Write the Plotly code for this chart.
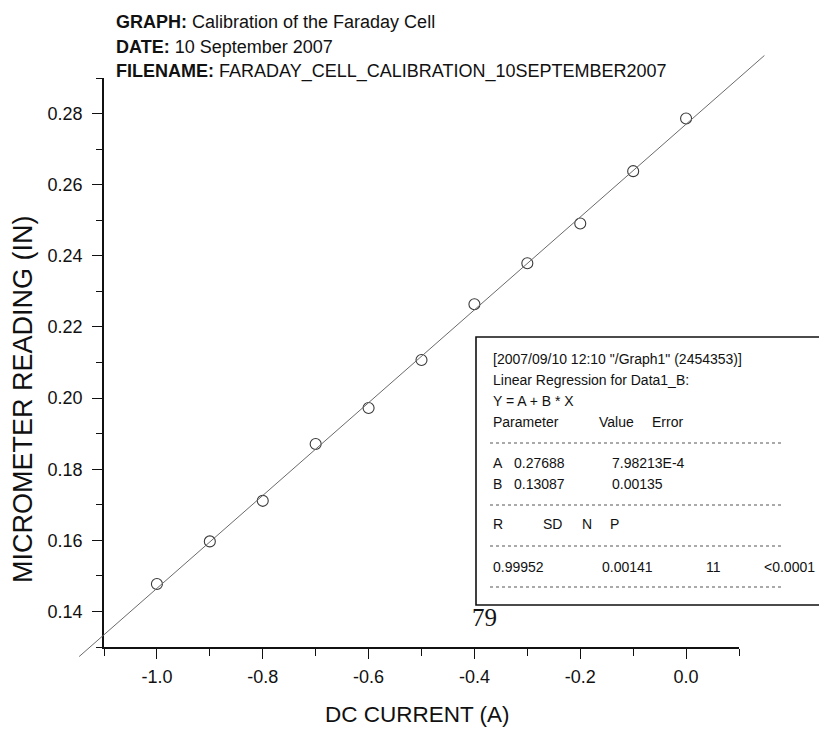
import numpy as np
import plotly.graph_objects as go

# ---- data ----
current = [-1.0, -0.9, -0.8, -0.7, -0.6, -0.5, -0.4, -0.3, -0.2, -0.1, 0.0]
reading = [0.1477, 0.1597, 0.1711, 0.1871, 0.1972, 0.2107, 0.2264, 0.2379, 0.2491, 0.2638, 0.2786]

x_tickvals = [-1.0, -0.8, -0.6, -0.4, -0.2, 0.0]
x_ticktext = ["-1.0", "-0.8", "-0.6", "-0.4", "-0.2", "0.0"]
y_tickvals = [0.14, 0.16, 0.18, 0.20, 0.22, 0.24, 0.26, 0.28]
y_ticktext = ["0.14", "0.16", "0.18", "0.20", "0.22", "0.24", "0.26", "0.28"]

header_lines = [
    ("GRAPH:", "Calibration of the Faraday Cell"),
    ("DATE:", "10 September 2007"),
    ("FILENAME:", "FARADAY_CELL_CALIBRATION_10SEPTEMBER2007"),
]

fit_x_span = [-1.147, 0.148]

report_rows = [
    ['[2007/09/10 12:10 "/Graph1" (2454353)]'],
    ["Linear Regression for Data1_B:"],
    ["Y = A + B * X"],
    ["Parameter", "Value", "Error"],
    ["A", "0.27688", "7.98213E-4"],
    ["B", "0.13087", "0.00135"],
    ["R", "SD", "N", "P"],
    ["0.99952", "0.00141", "11", "<0.0001"],
]

# ---- layout geometry (pixels) ----
W, H = 819, 733
PX_L, PX_R, PX_T, PX_B = 104, 739, 78, 647
XR = [-1.1, 0.1]
YR = [0.13, 0.29]

def px_x(p):
    return p / W

def px_y(p):
    return 1 - p / H

ppx = (PX_R - PX_L) / (XR[1] - XR[0])
ppy = (PX_B - PX_T) / (YR[1] - YR[0])
x2r = [XR[0] - PX_L / ppx, XR[1] + (W - PX_R) / ppx]
y2r = [YR[0] - (H - PX_B) / ppy, YR[1] + PX_T / ppy]

slope, intercept = np.polyfit(current, reading, 1)
fit_y = [intercept + slope * v for v in fit_x_span]

FONT = "Liberation Sans, Arial, sans-serif"
INK = "#111111"

fig = go.Figure()
fig.add_trace(go.Scatter(
    x=fit_x_span, y=fit_y, mode="lines", xaxis="x2", yaxis="y2",
    line=dict(color="#6a6a6a", width=1), showlegend=False, hoverinfo="skip",
    cliponaxis=False))
fig.add_trace(go.Scatter(
    x=current, y=reading, mode="markers",
    marker=dict(symbol="circle-open", size=11, color="#3a3a3a", line=dict(width=1.1)),
    showlegend=False, cliponaxis=False))

axis_common = dict(showgrid=False, zeroline=False, showline=True, linecolor=INK,
                   linewidth=1.5, ticks="outside", ticklen=10, tickwidth=1.3,
                   tickcolor=INK, automargin=False,
                   tickfont=dict(family=FONT, size=18, color=INK))

fig.update_layout(
    width=W, height=H,
    margin=dict(l=0, r=0, t=0, b=0),
    paper_bgcolor="white", plot_bgcolor="rgba(0,0,0,0)",
    xaxis=dict(domain=[px_x(PX_L), px_x(PX_R)], range=XR,
               tickvals=x_tickvals, ticktext=x_ticktext, ticklabelstandoff=3,
               minor=dict(dtick=0.1, tick0=0, ticks="outside", ticklen=7,
                          tickcolor=INK, tickwidth=1.3),
               **axis_common),
    yaxis=dict(domain=[px_y(PX_B), px_y(PX_T)], range=YR,
               tickvals=y_tickvals, ticktext=y_ticktext, ticklabelstandoff=6,
               minor=dict(dtick=0.01, tick0=0, ticks="outside", ticklen=6,
                          tickcolor=INK, tickwidth=1.3),
               **axis_common),
    xaxis2=dict(domain=[0, 1], range=x2r, visible=False, anchor="y2"),
    yaxis2=dict(domain=[0, 1], range=y2r, visible=False, anchor="x2"),
)

annotations = []
# header
for i, (label, value) in enumerate(header_lines):
    annotations.append(dict(
        xref="paper", yref="paper", x=px_x(114), y=px_y(22 + 25 * i),
        xanchor="left", yanchor="middle", showarrow=False,
        text=f"<b>{label}</b> {value}",
        font=dict(family=FONT, size=18, color=INK)))

# axis titles
annotations.append(dict(
    xref="paper", yref="paper", x=px_x(418), y=px_y(714),
    xanchor="center", yanchor="middle", showarrow=False,
    text="DC CURRENT (A)", font=dict(family=FONT, size=22.5, color=INK)))
annotations.append(dict(
    xref="paper", yref="paper", x=px_x(23), y=px_y(399), textangle=-90,
    xanchor="center", yanchor="middle", showarrow=False,
    text="MICROMETER READING (IN)", font=dict(family=FONT, size=27, color=INK)))

# regression report
row_y = [359, 380, 401, 422, 463, 484, 524, 567]
col_x = [
    [491],
    [491],
    [491],
    [491, 597, 650],
    [491, 512, 610],
    [491, 512, 610],
    [491, 541, 580, 608],
    [491, 600, 704, 762],
]
for texts, ypx, xs in zip(report_rows, row_y, col_x):
    for t, xpx in zip(texts, xs):
        annotations.append(dict(
            xref="paper", yref="paper", x=px_x(xpx), y=px_y(ypx),
            xanchor="left", yanchor="middle", showarrow=False, text=t,
            font=dict(family=FONT, size=14, color=INK)))

# page number from the scanned page
annotations.append(dict(
    xref="paper", yref="paper", x=px_x(484), y=px_y(617),
    xanchor="center", yanchor="middle", showarrow=False, text="79",
    font=dict(family="Liberation Serif, Times New Roman, serif", size=25, color=INK)))

shapes = [dict(type="rect", xref="paper", yref="paper",
               x0=px_x(476), x1=px_x(830), y0=px_y(605), y1=px_y(337),
               line=dict(color=INK, width=1.6), fillcolor="rgba(0,0,0,0)")]
for ypx in [443, 505, 546, 587]:
    shapes.append(dict(type="line", xref="paper", yref="paper",
                       x0=px_x(490), x1=px_x(782), y0=px_y(ypx), y1=px_y(ypx),
                       line=dict(color="#555555", width=1, dash="dot")))

fig.update_layout(annotations=annotations, shapes=shapes)
fig.write_html("out.html")
